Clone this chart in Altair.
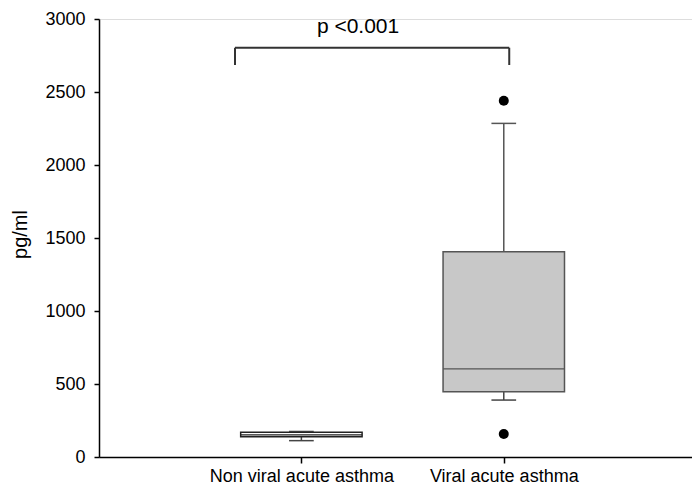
import altair as alt
import pandas as pd

# ---- data ----
categories = ["Non viral acute asthma", "Viral acute asthma"]
positions = [1, 2]
q1 = [139, 447]
median = [152, 603]
q3 = [169, 1406]
whisker_low = [112, 390]
whisker_high = [175, 2285]

outlier_category = ["Viral acute asthma", "Viral acute asthma"]
outlier_pos = [2, 2]
outlier_value = [2440, 157]

bracket_x = [0.672, 2.027]
bracket_top = 2803
bracket_bottom = 2685
p_label = "p <0.001"
p_label_x = 1.28
p_label_y = 2904

y_ticks = [0, 500, 1000, 1500, 2000, 2500, 3000]

# ---- layout constants ----
FONT = "Liberation Sans"
HALF_BOX = 0.3
HALF_CAP = 0.061
W, H = 593, 438

boxes = pd.DataFrame({
    "cat": categories, "pos": positions, "q1": q1, "median": median,
    "q3": q3, "lo": whisker_low, "hi": whisker_high,
})
outliers = pd.DataFrame({"cat": outlier_category, "pos": outlier_pos, "v": outlier_value})
bracket = pd.DataFrame({"x1": [bracket_x[0]], "x2": [bracket_x[1]],
                        "top": [bracket_top], "bottom": [bracket_bottom]})
bracket_legs = pd.DataFrame({"x": bracket_x, "top": [bracket_top] * 2,
                             "bottom": [bracket_bottom] * 2})
label_df = pd.DataFrame({"x": [p_label_x], "y": [p_label_y], "t": [p_label]})

xscale = alt.Scale(domain=[0, 2.93], nice=False, zero=False)
yscale = alt.Scale(domain=[0, 3000], nice=False)

label_expr = "datum.value == 1 ? '%s' : (datum.value == 2 ? '%s' : '')" % (categories[0], categories[1])

x_axis = alt.Axis(values=positions, labelExpr=label_expr, title=None, grid=False,
                  tickSize=6, labelPadding=4, labelFontSize=18, labelFont=FONT,
                  labelLimit=0, labelColor="black", domainColor="black",
                  tickColor="black", domainWidth=1.5, tickWidth=1.5)
y_axis = alt.Axis(values=y_ticks, format="d", title="pg/ml", grid=False, tickSize=5,
                  labelPadding=9, labelFontSize=18, labelFont=FONT, labelColor="black",
                  domainColor="black", tickColor="black", domainWidth=1.5, tickWidth=1.5,
                  titleFont=FONT, titleFontSize=20, titleFontWeight="normal",
                  titleColor="black", titleX=-79, titleY=215, titleAngle=270,
                  titleAlign="center", titleBaseline="middle")

base = alt.Chart(boxes).transform_calculate(
    left=f"datum.pos - {HALF_BOX}", right=f"datum.pos + {HALF_BOX}",
    capl=f"datum.pos - {HALF_CAP}", capr=f"datum.pos + {HALF_CAP}",
)

fill_scale = alt.Scale(domain=categories, range=["#ffffff", "#c8c8c8"])
stroke_scale = alt.Scale(domain=categories, range=["#222222", "#555555"])

whisker_up = base.mark_rule(color="#555555", strokeWidth=1.5).encode(
    x=alt.X("pos:Q", scale=xscale, axis=x_axis),
    y=alt.Y("q3:Q", scale=yscale, axis=y_axis),
    y2="hi:Q",
)
whisker_dn = base.mark_rule(color="#444444", strokeWidth=1.5).encode(
    x="pos:Q", y="q1:Q", y2="lo:Q")
cap_up = base.mark_rule(color="#555555", strokeWidth=1.5).encode(
    x="capl:Q", x2="capr:Q", y="hi:Q")
cap_dn = base.mark_rule(color="#444444", strokeWidth=1.5).encode(
    x="capl:Q", x2="capr:Q", y="lo:Q")
box = base.mark_rect(strokeWidth=1.5).encode(
    x="left:Q", x2="right:Q", y="q1:Q", y2="q3:Q",
    fill=alt.Fill("cat:N", scale=fill_scale, legend=None),
    stroke=alt.Stroke("cat:N", scale=stroke_scale, legend=None),
)
med = base.mark_rule(strokeWidth=1.2).encode(
    x="left:Q", x2="right:Q", y="median:Q",
    color=alt.Color("cat:N", scale=stroke_scale, legend=None),
)
pts = alt.Chart(outliers).mark_circle(color="black", opacity=1, size=100).encode(
    x="pos:Q", y="v:Q")

br_top = alt.Chart(bracket).mark_rule(color="#333333", strokeWidth=2).encode(
    x="x1:Q", x2="x2:Q", y="top:Q")
br_legs = alt.Chart(bracket_legs).mark_rule(color="#333333", strokeWidth=2).encode(
    x="x:Q", y="top:Q", y2="bottom:Q")
txt = alt.Chart(label_df).mark_text(font=FONT, fontSize=21, color="black",
                                    align="center", baseline="alphabetic").encode(
    x="x:Q", y="y:Q", text="t:N")

chart = alt.layer(whisker_up, whisker_dn, cap_up, cap_dn, box, med, pts,
                  br_top, br_legs, txt).properties(
    width=W, height=H,
    autosize=alt.AutoSizeParams(type="none"),
    padding={"left": 91, "top": 11, "right": 0, "bottom": 29},
).configure_view(stroke=None).configure(background="white")

chart.save("out.html", embed_options={"renderer": "svg", "actions": False})
